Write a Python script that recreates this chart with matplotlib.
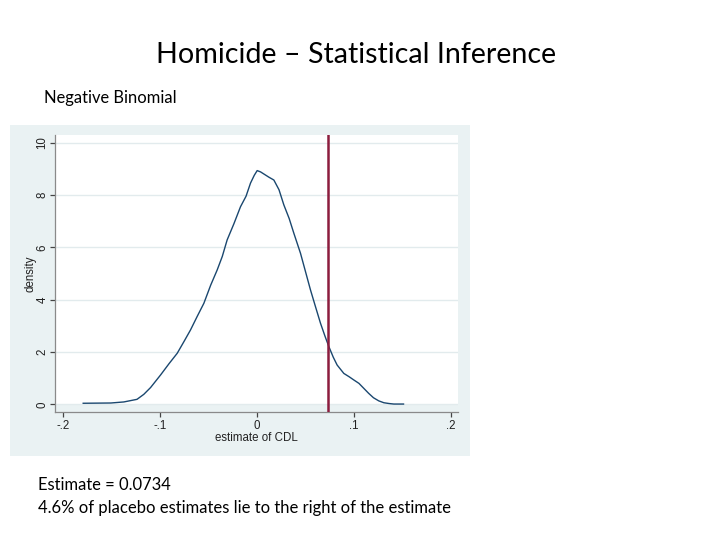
import matplotlib.pyplot as plt
from matplotlib.patches import Rectangle

# kernel density of the placebo estimates
est_x = [-0.1795, -0.151, -0.1376, -0.124, -0.117, -0.110, -0.0997, -0.091, -0.0825,
         -0.0755, -0.0688, -0.062, -0.055, -0.048, -0.0413, -0.036, -0.031, -0.024,
         -0.0172, -0.0115, -0.0069, -0.003, 0.0, 0.0035, 0.0069, 0.0120, 0.0172,
         0.0225, 0.0275, 0.0330, 0.0378, 0.0447, 0.050, 0.055, 0.060, 0.0653, 0.070,
         0.074, 0.0785, 0.0825, 0.0894, 0.0950, 0.0997, 0.105, 0.110, 0.115, 0.120,
         0.1255, 0.1307, 0.136, 0.141, 0.151]
density = [0.04, 0.05, 0.09, 0.19, 0.38, 0.64, 1.12, 1.55, 1.95, 2.40, 2.84, 3.35,
           3.86, 4.55, 5.13, 5.65, 6.28, 6.90, 7.55, 7.95, 8.45, 8.75, 8.93, 8.88,
           8.80, 8.68, 8.57, 8.20, 7.62, 7.10, 6.54, 5.77, 5.05, 4.37, 3.75, 3.10,
           2.60, 2.20, 1.80, 1.50, 1.18, 1.05, 0.93, 0.80, 0.61, 0.42, 0.25, 0.13,
           0.06, 0.03, 0.01, 0.01]
estimate = 0.0734

x_ticks = [-0.2, -0.1, 0.0, 0.1, 0.2]
x_ticklabels = ['-.2', '-.1', '0', '.1', '.2']
y_ticks = [0, 2, 4, 6, 8, 10]

title = 'Homicide \u2013 Statistical Inference'
subtitle = 'Negative Binomial'
note1 = 'Estimate = 0.0734'
note2 = '4.6% of placebo estimates lie to the right of the estimate'

W, H = 720, 540
stata_bg = '#eaf2f3'
navy = '#1a476f'
maroon = '#8c1d3e'


def fx(px):
    return px / W


def fy(py):
    return 1 - py / H


fig = plt.figure(figsize=(7.2, 5.4), dpi=100)
fig.patch.set_facecolor('white')

# slide text
txt_font = ['Lato', 'DejaVu Sans']
fig.text(fx(356), fy(63), title, ha='center', va='baseline', fontsize=20.6, family=txt_font)
fig.text(fx(44), fy(103), subtitle, ha='left', va='baseline', fontsize=11.9, family=txt_font)
fig.text(fx(38), fy(490), note1, ha='left', va='baseline', fontsize=11.9, family=txt_font)
fig.text(fx(38), fy(513), note2, ha='left', va='baseline', fontsize=12.0, family=txt_font)

# stata graph region background (behind the axes)
fig.patches.append(Rectangle((fx(10), fy(456)), 460 / W, 331 / H, transform=fig.transFigure,
                             facecolor=stata_bg, edgecolor='none', zorder=-10))

ax = fig.add_axes([fx(55), fy(412), 403 / W, 277 / H])
ax.set_facecolor(stata_bg)
ax.add_patch(Rectangle((0.0025, 0.025), 0.9975, 0.975, transform=ax.transAxes,
                       facecolor='white', edgecolor='none', zorder=0))

ax.plot(est_x, density, color=navy, lw=1.0, zorder=3)
ax.axvline(estimate, color=maroon, lw=1.8, zorder=4)

ax.set_xlim(-0.2086, 0.2072)
ax.set_ylim(-0.294, 10.29)
ax.set_xticks(x_ticks)
ax.set_xticklabels(x_ticklabels)
ax.set_yticks(y_ticks)
ax.set_yticklabels([str(v) for v in y_ticks], rotation=90, va='center')

ax.set_axisbelow(True)
ax.yaxis.grid(True, color='#e2ebed', lw=1.0)
ax.xaxis.grid(False)

for s in ['top', 'right']:
    ax.spines[s].set_visible(False)
for s in ['left', 'bottom']:
    ax.spines[s].set_color('#8a8a8a')
    ax.spines[s].set_linewidth(0.9)

lab_font = ['Liberation Sans', 'DejaVu Sans']
ax.tick_params(axis='both', length=3.6, width=0.9, color='#444444', labelsize=8.3,
               labelcolor='#222222')
ax.tick_params(axis='x', pad=2.5)
ax.tick_params(axis='y', pad=1.0)
for lab in ax.get_xticklabels() + ax.get_yticklabels():
    lab.set_family(lab_font)

ax.set_xlabel('estimate of CDL', fontsize=8.3, family=lab_font, color='#222222', labelpad=0)
ax.set_ylabel('density', fontsize=8.3, family=lab_font, color='#222222', labelpad=0)

fig.savefig('out.png', dpi=100)
